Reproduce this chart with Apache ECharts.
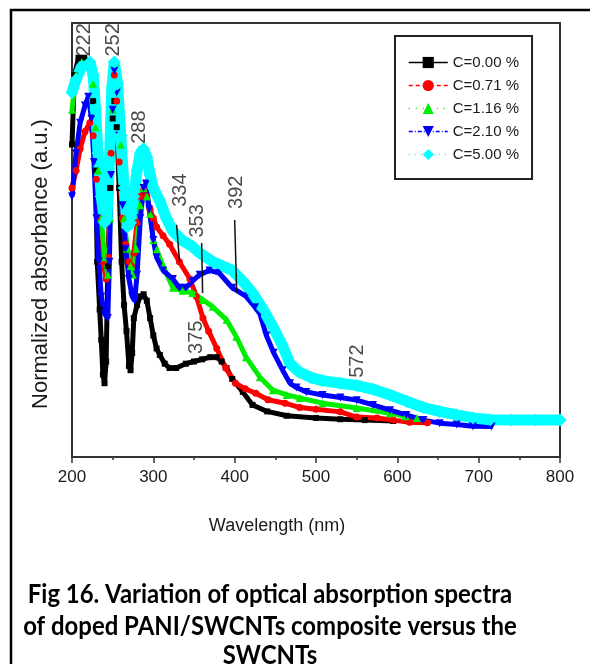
<!DOCTYPE html>
<html>
<head>
<meta charset="utf-8">
<script src="https://cdn.jsdelivr.net/npm/echarts@6/dist/echarts.min.js"></script>
<style>
  html, body { margin: 0; padding: 0; background: #fff; }
  #chart { width: 590px; height: 664px; }
</style>
</head>
<body>
<div id="chart"></div>
<script>
// series names (legend)
const seriesNames = ['C=0.00 %', 'C=0.71 %', 'C=1.16 %', 'C=2.10 %', 'C=5.00 %'];

// [wavelength nm, normalized absorbance]
const c000 = [[200,0.72],[203,0.88],[208,0.92],[215,0.92],[222,0.91],[226,0.82],[229,0.66],[231,0.45],[234,0.34],[236,0.27],[238,0.19],[240,0.17],[242,0.22],[244,0.44],[247,0.62],[250,0.78],[252,0.82],[255,0.76],[258,0.62],[261,0.45],[264,0.35],[267,0.29],[270,0.21],[272,0.20],[274,0.24],[276,0.32],[280,0.35],[284,0.37],[288,0.375],[292,0.36],[296,0.32],[300,0.28],[304,0.25],[308,0.235],[314,0.215],[320,0.205],[328,0.205],[340,0.215],[350,0.22],[360,0.225],[370,0.23],[378,0.23],[384,0.22],[390,0.205],[397,0.18],[410,0.15],[422,0.12],[440,0.105],[464,0.095],[500,0.09],[530,0.087],[560,0.085],[595,0.083]];
const c071 = [[200,0.62],[205,0.66],[210,0.71],[216,0.75],[222,0.77],[226,0.74],[230,0.64],[234,0.55],[238,0.45],[242,0.41],[245,0.46],[248,0.70],[252,0.88],[255,0.82],[258,0.68],[262,0.55],[266,0.49],[270,0.45],[273,0.44],[276,0.47],[280,0.54],[284,0.60],[288,0.615],[292,0.60],[296,0.57],[300,0.55],[304,0.53],[312,0.51],[320,0.49],[332,0.45],[345,0.41],[353,0.37],[361,0.32],[368,0.29],[378,0.25],[389,0.205],[401,0.17],[413,0.157],[426,0.147],[441,0.132],[462,0.124],[480,0.114],[500,0.11],[530,0.104],[550,0.092],[575,0.09],[595,0.085],[615,0.08],[637,0.079]];
const c116 = [[200,0.80],[205,0.88],[212,0.91],[222,0.91],[226,0.86],[229,0.76],[232,0.66],[236,0.55],[240,0.46],[244,0.42],[247,0.55],[250,0.80],[253,0.91],[256,0.86],[260,0.72],[264,0.55],[268,0.48],[272,0.44],[275,0.42],[279,0.48],[284,0.58],[288,0.62],[292,0.60],[296,0.56],[300,0.50],[304,0.477],[312,0.44],[324,0.39],[336,0.383],[348,0.378],[361,0.362],[373,0.346],[390,0.316],[402,0.277],[414,0.23],[431,0.184],[447,0.154],[464,0.143],[480,0.136],[508,0.124],[550,0.113],[591,0.101],[610,0.094],[624,0.09]];
const c210 = [[200,0.60],[205,0.70],[210,0.77],[216,0.81],[220,0.83],[224,0.78],[227,0.68],[230,0.55],[233,0.45],[236,0.37],[240,0.33],[244,0.32],[246,0.45],[248,0.65],[250,0.80],[252,0.89],[255,0.84],[258,0.74],[262,0.58],[266,0.48],[270,0.41],[274,0.37],[277,0.36],[280,0.42],[284,0.55],[288,0.62],[291,0.63],[295,0.57],[300,0.50],[304,0.46],[312,0.43],[324,0.41],[332,0.39],[340,0.39],[348,0.405],[357,0.42],[369,0.43],[381,0.424],[397,0.39],[414,0.37],[425,0.345],[431,0.33],[439,0.28],[448,0.24],[459,0.20],[468,0.17],[476,0.16],[488,0.15],[508,0.143],[530,0.137],[550,0.131],[570,0.12],[591,0.108],[611,0.097],[632,0.085],[652,0.078],[673,0.075],[693,0.071],[716,0.07]];
const c500 = [[200,0.84],[205,0.87],[212,0.90],[222,0.91],[226,0.88],[229,0.80],[232,0.70],[236,0.60],[240,0.54],[243,0.55],[246,0.68],[249,0.85],[252,0.91],[256,0.86],[260,0.74],[264,0.62],[268,0.53],[272,0.54],[276,0.60],[280,0.66],[284,0.70],[288,0.71],[292,0.69],[296,0.65],[300,0.62],[308,0.59],[316,0.55],[324,0.52],[335,0.50],[348,0.485],[357,0.47],[373,0.45],[385,0.44],[397,0.43],[410,0.405],[422,0.378],[435,0.34],[447,0.30],[458,0.26],[468,0.215],[480,0.195],[494,0.183],[508,0.176],[530,0.17],[550,0.165],[570,0.156],[591,0.143],[612,0.128],[632,0.114],[652,0.105],[673,0.097],[693,0.09],[714,0.086],[740,0.085],[770,0.085],[800,0.085]];

// peak labels: [x, y, text]
const peakLabels = [[215,0.961,'222'],[251,0.961,'252'],[283,0.76,'288'],[333.5,0.615,'334'],[354.5,0.544,'353'],[402.5,0.61,'392'],[353,0.276,'375'],[551,0.221,'572']];
// little pointer lines under some labels
const peakLines = [[[328.6,0.535],[332.3,0.449]],[[359.4,0.493],[360.6,0.378]],[[400,0.546],[402.5,0.378]]];

const xTicks = { min: 200, max: 800, interval: 100 };

const colors = ['#000000', '#ff0000', '#00ee00', '#0000ff', '#00ffff'];
const symbols = ['rect', 'circle', 'triangle', 'triangle', 'diamond'];
const symbolRot = [0, 0, 0, 180, 0];
const symbolSizes = [6, 7, 8, 8, 13];
const bandWidth = [5, 5, 5, 5, 11];
const legendDash = ['solid', [4, 3], [1, 6], [4, 2, 1, 2], [1, 5]];
const allData = [c000, c071, c116, c210, c500];

const txt = '#1a1a1a';
const FONT = '"Liberation Sans", Arial, sans-serif';
const CAPTION_FONT = 'bold 26px Lato, sans-serif';

function series() {
    const s = [];
    for (let i = 0; i < allData.length; i++) {
        s.push({
            name: seriesNames[i],
            type: 'line',
            data: allData[i],
            symbol: symbols[i],
            symbolRotate: symbolRot[i],
            symbolSize: symbolSizes[i],
            showSymbol: true,
            color: colors[i],
            itemStyle: { color: colors[i] },
            lineStyle: { color: colors[i], width: bandWidth[i] },
            silent: true
        });
    }
    // peak annotations
    s.push({
        name: 'peaks',
        type: 'scatter',
        symbolSize: 0,
        data: peakLabels,
        silent: true,
        label: {
            show: true,
            position: 'inside',
            rotate: 90,
            formatter: (p) => p.data[2],
            color: txt,
            fontSize: 20,
            fontFamily: FONT
        },
        markLine: {
            silent: true,
            symbol: ['none', 'none'],
            label: { show: false },
            lineStyle: { color: '#111', width: 1.5, type: 'solid' },
            data: peakLines.map(l => [{ coord: l[0] }, { coord: l[1] }])
        },
        z: 5
    });
    return s;
}

function captionLine(text, y) {
    return {
        type: 'text', x: 270, y: y, scaleX: 0.92,
        style: { text: text, font: CAPTION_FONT, fill: '#000', textAlign: 'center', textVerticalAlign: 'middle' }
    };
}

const option = {
    animation: false,
    backgroundColor: '#fff',
    grid: {
        left: 72,
        right: 30,
        top: 23,
        bottom: 207,
        show: true,
        borderColor: '#333',
        borderWidth: 2
    },
    legend: {
        orient: 'vertical',
        left: 395,
        top: 36,
        padding: [19, 13, 17, 13],
        itemGap: 8,
        itemWidth: 39,
        itemHeight: 14,
        borderColor: '#222',
        borderWidth: 2,
        textStyle: { color: txt, fontSize: 15, fontFamily: FONT },
        lineStyle: { width: 1.5 },
        data: seriesNames.map((n, i) => ({
            name: n,
            lineStyle: { width: 1.5, type: legendDash[i] }
        }))
    },
    xAxis: {
        type: 'value',
        min: xTicks.min,
        max: xTicks.max,
        interval: xTicks.interval,
        name: 'Wavelength (nm)',
        nameLocation: 'middle',
        nameGap: 60,
        nameTextStyle: { color: txt, fontSize: 18, fontFamily: FONT, padding: [0, 78, 0, 0] },
        axisLine: { show: true, lineStyle: { color: '#333', width: 2 } },
        axisTick: { show: true, length: 6, lineStyle: { color: '#333', width: 1.5 } },
        minorTick: { show: true, splitNumber: 2, length: 3, lineStyle: { color: '#333', width: 1.5 } },
        axisLabel: { color: txt, fontSize: 17, fontFamily: FONT, margin: 12 },
        splitLine: { show: false }
    },
    yAxis: {
        type: 'value',
        min: 0,
        max: 1,
        name: 'Normalized absorbance (a.u.)',
        nameLocation: 'middle',
        nameGap: 20,
        nameRotate: 90,
        nameTextStyle: { color: txt, fontSize: 22, fontFamily: FONT, padding: [0, 48, 0, 0] },
        axisLine: { show: true, lineStyle: { color: '#333', width: 2 } },
        axisTick: { show: false },
        axisLabel: { show: false },
        splitLine: { show: false }
    },
    graphic: [
        {
            type: 'rect',
            shape: { x: 11, y: 10, width: 640, height: 720 },
            style: { fill: 'none', stroke: '#000', lineWidth: 2.5 },
            silent: true
        },
        captionLine('Fig 16. Variation of optical absorption spectra', 595),
        captionLine('of doped PANI/SWCNTs composite versus the', 627),
        captionLine('SWCNTs', 656)
    ],
    series: series()
};

const myChart = echarts.init(document.getElementById('chart'));
option && myChart.setOption(option);
window.addEventListener('resize', () => {
    myChart.resize();
});
</script>
</body>
</html>
